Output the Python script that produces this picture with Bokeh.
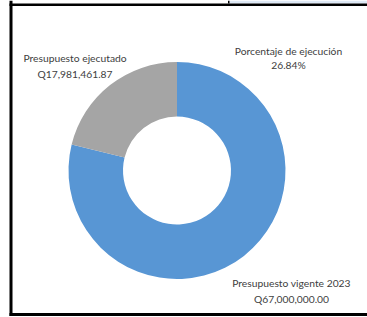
import math
from bokeh.plotting import figure
from bokeh.models import Range1d, ColumnDataSource
from bokeh.core.properties import value
from bokeh.embed import file_html
from bokeh.resources import INLINE

# ---- data ----
categories = ["Presupuesto vigente 2023", "Presupuesto ejecutado"]
amounts = [67000000.00, 17981461.87]
amount_labels = ["Q67,000,000.00", "Q17,981,461.87"]
pct_title = "Porcentaje de ejecución"
pct_label = "26.84%"
colors = ["#5896d4", "#a5a5a5"]

W, H = 367, 317
p = figure(width=W, height=H, output_backend="svg", toolbar_location=None,
           x_range=Range1d(0, W), y_range=Range1d(0, H),
           min_border=0, margin=(0, 0, 0, 0))
p.axis.visible = False
p.grid.visible = False
p.outline_line_color = None
p.background_fill_color = "white"
p.border_fill_color = "white"

def sy(y):
    return H - y

# ---- donut (slices start at 12 o'clock, clockwise) ----
total = sum(amounts)
starts, ends = [], []
cum = 0.0
for a in amounts:
    starts.append(math.pi / 2 - 2 * math.pi * cum / total)
    cum += a
    ends.append(math.pi / 2 - 2 * math.pi * cum / total)

src = ColumnDataSource(dict(cat=categories, start=starts, end=ends, color=colors))
cx, cy = 176.5, sy(170)
p.annular_wedge(x=cx, y=cy, inner_radius=54, outer_radius=108.5,
                start_angle="start", end_angle="end", direction="clock",
                fill_color="color", line_color=None, source=src)

# ---- labels ----
font = value("Lato")
tc = "#404040"
fs = "10.3px"
def lab(x, y, t):
    p.text(x=[x], y=[sy(y)], text=[t], text_font=font, text_font_size=fs,
           text_color=tc, text_align="center", text_baseline="middle")

lab(74.5, 57.5, categories[1])
lab(74.5, 73, amount_labels[1])
lab(288, 50, pct_title)
lab(288, 64, pct_label)
lab(291, 282, categories[0])
lab(291, 298, amount_labels[0])

# ---- surrounding frame (page decoration) ----
p.quad(left=[229], right=[W], top=[sy(0)], bottom=[sy(3)], fill_color="#dde8f5", line_color=None)
p.quad(left=[227.5], right=[229], top=[sy(0)], bottom=[sy(3)], fill_color="black", line_color=None)
p.quad(left=[9], right=[12], top=[sy(0)], bottom=[sy(315.5)], fill_color="black", line_color=None)
p.quad(left=[9], right=[W], top=[sy(3)], bottom=[sy(5.5)], fill_color="black", line_color=None)
p.quad(left=[9], right=[W], top=[sy(312.5)], bottom=[sy(315.5)], fill_color="black", line_color=None)

open("out.html", "w").write(file_html(p, INLINE))
